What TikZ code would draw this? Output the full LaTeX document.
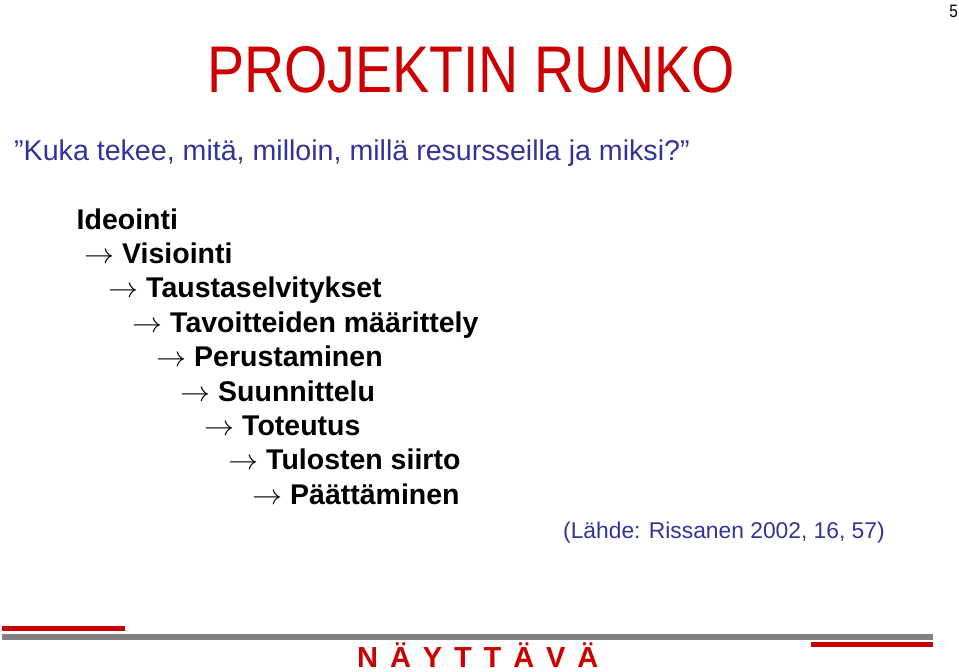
\RequirePackage{fix-cm}
\documentclass[tikz,border=0pt]{standalone}
\usepackage{fontspec}
\setmainfont{Liberation Sans}
\newfontfamily\spacedfont[LetterSpace=41]{Liberation Sans}
\newcommand{\nextarrow}{\resizebox{30pt}{\height}{$\rightarrow$}\hspace{8pt}}
\usetikzlibrary{positioning}
\definecolor{cred}{rgb}{0.8, 0, 0}
\definecolor{cnavy}{rgb}{0.2, 0.2, 0.6}
\definecolor{cgray}{rgb}{0.5, 0.5, 0.5}

\begin{document}
\begin{tikzpicture}[x=1pt,y=-1pt,node distance=34.4pt,
  phase node/.style={inner sep=0pt,font=\fontsize{28.5}{28.5}\selectfont\bfseries},
        text node/.style={inner sep=0pt,text=cnavy}]
  \useasboundingbox (0,0) rectangle (959,672);
  \node[inner sep=0pt,anchor=base east,font=\fontsize{18}{18}\selectfont] (page) at (958,17) {\scalebox{0.85}[1]{5}};
  \node[inner sep=0pt,anchor=base,text=cred,font=\fontsize{66}{66}\selectfont] (title) at (471,92) {\scalebox{0.842}[1]{PROJEKTIN RUNKO}};
  \node[text node,anchor=base west,font=\fontsize{28.6}{28.6}\selectfont] (question) at (14,160) {”Kuka tekee, mitä, milloin, millä resursseilla ja miksi?”};

  \node[phase node,anchor=base west] (1) at (76.5,229) {Ideointi};
  \node[phase node,below=of 1.base west,anchor=base west,xshift=7.5pt] (2) {\nextarrow Visiointi};
  \node[phase node,below=of 2.base west,anchor=base west,xshift=24pt] (3) {\nextarrow Taustaselvitykset};
  \node[phase node,below=of 3.base west,anchor=base west,xshift=24pt] (4) {\nextarrow Tavoitteiden määrittely};
  \node[phase node,below=of 4.base west,anchor=base west,xshift=24pt] (5) {\nextarrow Perustaminen};
  \node[phase node,below=of 5.base west,anchor=base west,xshift=24pt] (6) {\nextarrow Suunnittelu};
  \node[phase node,below=of 6.base west,anchor=base west,xshift=24pt] (7) {\nextarrow Toteutus};
  \node[phase node,below=of 7.base west,anchor=base west,xshift=24pt] (8) {\nextarrow Tulosten siirto};
  \node[phase node,below=of 8.base west,anchor=base west,xshift=24pt] (9) {\nextarrow Päättäminen};

  \node[text node,anchor=base west,font=\fontsize{22.8}{22.8}\selectfont] (source) at (563,538) {(Lähde: Rissanen 2002, 16, 57)};

  % footer bars
  \fill[cred] (2,626) rectangle (125,630.5);
  \fill[cgray] (2,634) rectangle (933,639.5);
  \fill[cred] (811,642) rectangle (933,647);
  \node[inner sep=0pt,anchor=base west,text=cred,font=\fontsize{29}{29}\spacedfont\bfseries] (footer) at (357,667) {NÄYTTÄVÄ};
\end{tikzpicture}
\end{document}
